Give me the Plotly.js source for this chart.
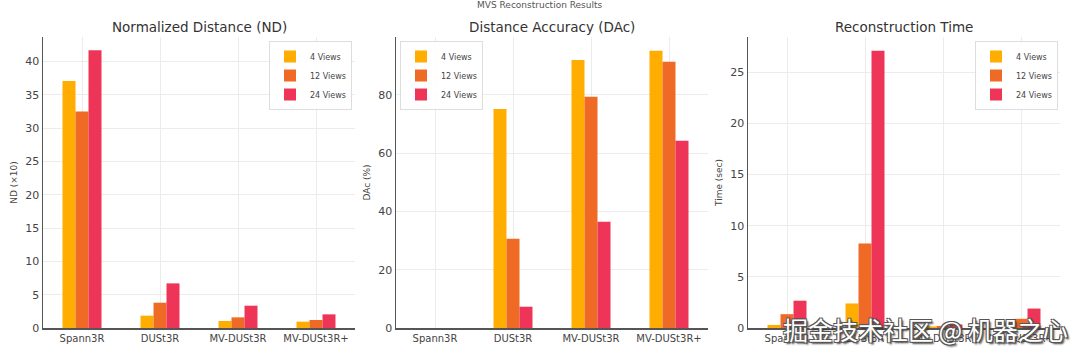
<!DOCTYPE html>
<html>
<head>
<meta charset="utf-8">
<script src="https://cdn.plot.ly/plotly-3.0.1.min.js"></script>
<style>html,body{margin:0;padding:0;background:#fff;}#chart{width:1080px;height:356px;}</style>
</head>
<body>
<div id="chart"></div>
<script>
const methods = ["Spann3R", "DUSt3R", "MV-DUSt3R", "MV-DUSt3R+"];
const viewLabels = ["4 Views", "12 Views", "24 Views"];
const colors = ["#FFAD00", "#EF6A25", "#EE3558"];

const nd4 = [37.1, 1.85, 1.05, 0.95];
const nd12 = [32.5, 3.8, 1.6, 1.2];
const nd24 = [41.7, 6.7, 3.35, 2.05];

const dac4 = [0, 75.1, 91.9, 95.1];
const dac12 = [0, 30.6, 79.3, 91.3];
const dac24 = [0, 7.3, 36.4, 64.2];

const time4 = [0.3, 2.4, 0.15, 0.5];
const time12 = [1.35, 8.25, 0.2, 0.9];
const time24 = [2.67, 27.1, 0.35, 1.9];

const panelTitles = ["Normalized Distance (ND)", "Distance Accuracy (DAc)", "Reconstruction Time"];
const yTitles = ["ND (×10)", "DAc (%)", "Time (sec)"];
const suptitle = "MVS Reconstruction Results";
const watermark = "掘金技术社区 @ 机器之心";

const panels = [[nd4, nd12, nd24], [dac4, dac12, dac24], [time4, time12, time24]];
const axSuffix = ["", "2", "3"];
const legendIds = ["legend", "legend2", "legend3"];

const traces = [];
panels.forEach((series, p) => {
  series.forEach((vals, s) => {
    traces.push({
      type: "bar",
      x: methods,
      y: vals,
      name: viewLabels[s],
      marker: {color: colors[s], line: {width: 0}},
      xaxis: "x" + axSuffix[p],
      yaxis: "y" + axSuffix[p],
      legend: legendIds[p],
      showlegend: true,
      hoverinfo: "x+y+name"
    });
  });
});

const W = 1080, H = 356;
const xDomains = [[43 / W, 355 / W], [396 / W, 708 / W], [748 / W, 1060 / W]];
const yDomain = [(H - 328) / H, (H - 37) / H];
const yRanges = [[0, 43.7], [0, 99.8], [0, 28.45]];
const yDticks = [5, 20, 5];

const font = "DejaVu Sans, Liberation Sans, sans-serif";
const layout = {
  width: W, height: H,
  margin: {l: 0, r: 0, t: 0, b: 0},
  paper_bgcolor: "#ffffff",
  plot_bgcolor: "#ffffff",
  barmode: "group",
  bargap: 0.5,
  bargroupgap: 0,
  font: {family: font, color: "#444", size: 10},
  annotations: [],
  showlegend: true
};

for (let p = 0; p < 3; p++) {
  const xa = {
    domain: xDomains[p],
    anchor: "y" + axSuffix[p],
    type: "category",
    range: [-0.5, 3.5],
    showline: true, linecolor: "#555", linewidth: 1.5,
    showgrid: true, gridcolor: "#ececec", gridwidth: 1,
    ticks: "", tickfont: {size: 10, color: "#444", family: font},
    zeroline: false, fixedrange: true
  };
  const ya = {
    domain: yDomain,
    anchor: "x" + axSuffix[p],
    range: yRanges[p],
    dtick: yDticks[p], tick0: 0,
    showline: true, linecolor: "#555", linewidth: 1.5,
    showgrid: true, gridcolor: "#ececec", gridwidth: 1,
    ticks: "", ticklen: 0,
    tickfont: {size: 11, color: "#444", family: font},
    zeroline: false,
    title: {text: yTitles[p], font: {size: 9, color: "#444", family: font}, standoff: 6},
    fixedrange: true
  };
  layout["xaxis" + axSuffix[p]] = xa;
  layout["yaxis" + axSuffix[p]] = ya;
  layout.annotations.push({
    text: panelTitles[p],
    xref: "paper", yref: "paper",
    x: (xDomains[p][0] + xDomains[p][1]) / 2,
    y: (H - 27) / H,
    xanchor: "center", yanchor: "middle",
    showarrow: false,
    font: {size: 13.5, color: "#333", family: font}
  });
}

const legendBase = {
  bgcolor: "rgba(255,255,255,0.9)",
  bordercolor: "#dddddd",
  borderwidth: 1,
  font: {size: 8, color: "#444", family: font},
  yanchor: "top",
  y: (H - 41) / H,
  tracegroupgap: 0,
  itemwidth: 30
};
layout.legend = Object.assign({}, legendBase, {x: 352 / W, xanchor: "right"});
layout.legend2 = Object.assign({}, legendBase, {x: 400 / W, xanchor: "left"});
layout.legend3 = Object.assign({}, legendBase, {x: 1058 / W, xanchor: "right"});

layout.annotations.push({
  text: suptitle,
  xref: "paper", yref: "paper",
  x: 0.5, y: (H - 5) / H,
  xanchor: "center", yanchor: "middle",
  showarrow: false,
  font: {size: 9, color: "#555", family: font}
});

layout.annotations.push({
  text: watermark,
  xref: "paper", yref: "paper",
  x: 925 / W, y: (H - 329) / H,
  xanchor: "center", yanchor: "middle",
  showarrow: false,
  font: {size: 25, color: "#ffffff", family: "Noto Sans CJK SC, sans-serif",
         shadow: "-1px -1px 0 #555, 1px -1px 0 #555, -1px 1px 0 #555, 1px 1px 0 #555, 2px 2px 2px #333"}
});

Plotly.newPlot("chart", traces, layout, {staticPlot: true, displayModeBar: false});
</script>
</body>
</html>
